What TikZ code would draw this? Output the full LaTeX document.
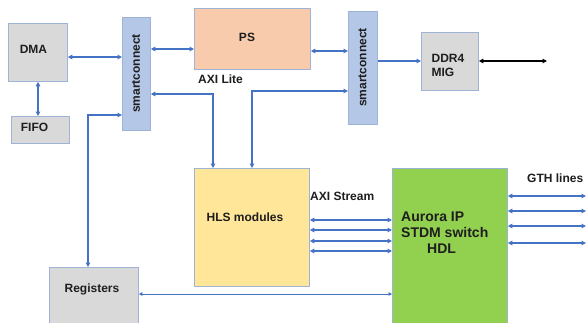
\documentclass[tikz,border=0pt]{standalone}
\usepackage{fontspec}
\setmainfont{Liberation Sans}
\usetikzlibrary{arrows.meta}
\definecolor{lineblue}{HTML}{4472C4}
\definecolor{edge}{HTML}{9FB3D6}
\definecolor{boxgray}{HTML}{D9D9D9}
\definecolor{scblue}{HTML}{B4C7E7}
\definecolor{psorange}{HTML}{F8CBAD}
\definecolor{hlsyellow}{HTML}{FFE699}
\definecolor{auroragreen}{HTML}{92D050}
\definecolor{txt}{HTML}{1E1E1E}
\tikzset{
  box/.style={draw=edge, line width=0.8pt, anchor=north west, inner sep=0pt},
  graybox/.style={box, fill=boxgray},
  lbl/.style={text=txt, font=\fontsize{12}{14}\selectfont\bfseries, inner sep=0pt},
  biglbl/.style={text=txt, font=\fontsize{14}{16}\selectfont\bfseries, inner sep=0pt, anchor=base west},
  conn/.style={draw=lineblue, line width=1.9pt, {Triangle[length=4.5pt,width=4.5pt]}-{Triangle[length=4.5pt,width=4.5pt]}},
  conn1/.style={draw=lineblue, line width=1.9pt, -{Triangle[length=4.5pt,width=4.5pt]}},
  thinconn/.style={draw=lineblue, line width=0.7pt, {Triangle[length=3.5pt,width=3.5pt]}-{Triangle[length=3.5pt,width=3.5pt]}},
  blackconn/.style={draw=black, line width=1.9pt, {Triangle[length=4.5pt,width=4.5pt]}-{Triangle[length=4.5pt,width=4.5pt]}}
}
\begin{document}
\begin{tikzpicture}[x=1pt,y=-1pt]
\clip (0,0) rectangle (587,322);
\fill[white] (0,0) rectangle (587,322);
% boxes
\node[graybox, minimum width=59pt, minimum height=58pt] (dma) at (8,23) {};
\node[lbl] (dmatext) at (33.5,49) {DMA};
\node[graybox, minimum width=58pt, minimum height=27pt] (fifo) at (11,116) {};
\node[lbl] (fifotext) at (34.5,127) {FIFO};
\node[box, fill=scblue, minimum width=28pt, minimum height=113pt] (sc1) at (122,17) {};
\node[lbl, rotate=90] (sc1text) at (136,73.5) {smartconnect};
\node[box, fill=psorange, minimum width=116pt, minimum height=61pt] (ps) at (194,8) {};
\node[lbl] (pstext) at (247,37) {PS};
\node[lbl, anchor=west] (axilite) at (198,79) {AXI Lite};
\node[box, fill=scblue, minimum width=29pt, minimum height=113pt] (sc2) at (348,11) {};
\node[lbl, rotate=90] (sc2text) at (362.5,67.5) {smartconnect};
\node[graybox, minimum width=57pt, minimum height=58pt] (ddr) at (421,32) {};
\node[lbl, align=left] (ddrtext) at (448,65) {DDR4\\MIG};
\node[box, fill=hlsyellow, minimum width=115pt, minimum height=118pt] (hls) at (194,168) {};
\node[lbl] (hlstext) at (245,217) {HLS modules};
\node[lbl, anchor=west] (axis) at (310,196) {AXI Stream};
\node[box, fill=auroragreen, minimum width=115pt, minimum height=160pt] (aur) at (392,168) {};
\node[biglbl] (aur1) at (401,221) {Aurora IP};
\node[biglbl] (aur2) at (401,237) {STDM switch};
\node[biglbl] (aur3) at (427,253) {HDL};
\node[lbl, anchor=west] (gth) at (527,178) {GTH lines};
\node[graybox, minimum width=89pt, minimum height=60pt] (reg) at (49,267) {};
\node[lbl] (regtext) at (92,289) {Registers};
% free ends
\coordinate (ddrend) at (547,61);
\coordinate (g1) at (587,196);
\coordinate (g2) at (587,211);
\coordinate (g3) at (587,226);
\coordinate (g4) at (587,243);
% connectors
\draw[conn] (dma.east |- 0,57) -- (sc1.west |- 0,57);
\draw[conn] (dma.south -| 38,0) -- (fifo.north -| 38,0);
\draw[conn] (sc1.east |- 0,49) -- (ps.west |- 0,49);
\draw[conn] (ps.east |- 0,51) -- (sc2.west |- 0,51);
\draw[conn1] (sc2.east |- 0,61) -- (ddr.west |- 0,61);
\draw[blackconn] (ddr.east |- 0,61) -- (ddrend);
\draw[conn] (sc1.east |- 0,94) -- (213,94) -- (hls.north -| 213,0);
\draw[conn] (sc2.west |- 0,91) -- (252,91) -- (hls.north -| 252,0);
\draw[conn] (sc1.west |- 0,115) -- (88,115) -- (reg.north -| 88,0);
\foreach \y in {220,230,241,251}
  \draw[conn] (hls.east |- 0,\y) -- (aur.west |- 0,\y);
\foreach \g in {g1,g2,g3,g4}
  \draw[conn] (aur.east |- \g) -- ([xshift=-1pt]\g);
\draw[thinconn] (reg.east |- 0,294) -- (aur.west |- 0,294);
\end{tikzpicture}
\end{document}
